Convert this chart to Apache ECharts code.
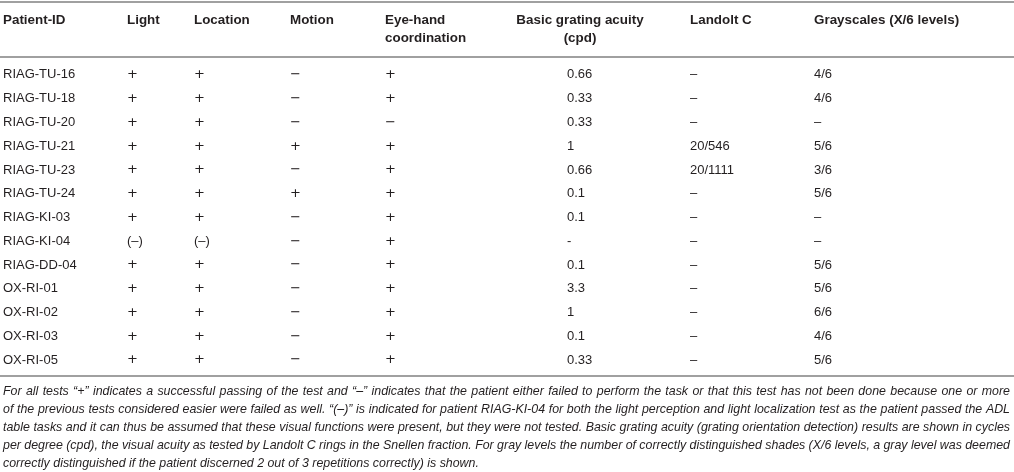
<!DOCTYPE html>
<html>
<head>
<meta charset="utf-8">
<script src="https://cdn.jsdelivr.net/npm/echarts@6/dist/echarts.min.js"></script>
<style>
  html, body { margin: 0; padding: 0; background: #fff; }
  #chart { width: 1014px; height: 472px; }
</style>
</head>
<body>
<div id="chart"></div>
<script>
// 表格数据：每列一个数组
var patientIds = ['RIAG-TU-16', 'RIAG-TU-18', 'RIAG-TU-20', 'RIAG-TU-21', 'RIAG-TU-23', 'RIAG-TU-24',
  'RIAG-KI-03', 'RIAG-KI-04', 'RIAG-DD-04', 'OX-RI-01', 'OX-RI-02', 'OX-RI-03', 'OX-RI-05']
var lightTest = ['+', '+', '+', '+', '+', '+', '+', '(\u2013)', '+', '+', '+', '+', '+']
var locationTest = ['+', '+', '+', '+', '+', '+', '+', '(\u2013)', '+', '+', '+', '+', '+']
var motionTest = ['\u2212', '\u2212', '\u2212', '+', '\u2212', '+', '\u2212', '\u2212', '\u2212', '\u2212', '\u2212', '\u2212', '\u2212']
var eyeHandTest = ['+', '+', '\u2212', '+', '+', '+', '+', '+', '+', '+', '+', '+', '+']
var gratingAcuity = ['0.66', '0.33', '0.33', '1', '0.66', '0.1', '0.1', '-', '0.1', '3.3', '1', '0.1', '0.33']
var landoltC = ['\u2013', '\u2013', '\u2013', '20/546', '20/1111', '\u2013', '\u2013', '\u2013', '\u2013', '\u2013', '\u2013', '\u2013', '\u2013']
var grayscales = ['4/6', '4/6', '\u2013', '5/6', '3/6', '5/6', '\u2013', '\u2013', '5/6', '5/6', '6/6', '4/6', '5/6']

// 表头（多行用 \n）
var headers = ['Patient-ID', 'Light', 'Location', 'Motion', 'Eye-hand\ncoordination',
  'Basic grating acuity\n(cpd)', 'Landolt C', 'Grayscales (X/6 levels)']

var footnote = [
  'For all tests \u201c+\u201d indicates a successful passing of the test and \u201c\u2013\u201d indicates that the patient either failed to perform the task or that this test has not been done because one or more',
  'of the previous tests considered easier were failed as well. \u201c(\u2013)\u201d is indicated for patient RIAG-KI-04 for both the light perception and light localization test as the patient passed the ADL',
  'table tasks and it can thus be assumed that these visual functions were present, but they were not tested. Basic grating acuity (grating orientation detection) results are shown in cycles',
  'per degree (cpd), the visual acuity as tested by Landolt C rings in the Snellen fraction. For gray levels the number of correctly distinguished shades (X/6 levels, a gray level was deemed',
  'correctly distinguished if the patient discerned 2 out of 3 repetitions correctly) is shown.'
]

// 布局：各列文字的横向起点
var COL_X = [3, 127, 194, 290, 385, 567, 690, 814]
var HEAD_X = [3, 127, 194, 290, 385, 580, 690, 814]
var HEAD_ALIGN = ['left', 'left', 'left', 'left', 'left', 'center', 'left', 'left']
var FONT = '"Liberation Sans", Arial, Helvetica, sans-serif'
var SIGN_FONT = '"DejaVu Sans", "Liberation Sans", sans-serif'
var NOTE_FONT = 'italic 12.4px ' + FONT
var TEXT_COLOR = '#231f20'
var RULE_COLOR = '#a0a0a0'

var columns = [patientIds, lightTest, locationTest, motionTest, eyeHandTest, gratingAcuity, landoltC, grayscales]

// 生成单元格数据 [列号, 行号, 文本]
var cells = []
for (let c = 0; c < columns.length; c++) {
  for (let r = 0; r < patientIds.length; r++) {
    cells.push([c, r, columns[c][r]])
  }
}

// 单独的加减号用更宽的字体
function isSign (text) {
  return text === '+' || text === '\u2212'
}

var graphics = []
// 横线
var rules = [2, 57, 376]
for (let i = 0; i < rules.length; i++) {
  graphics.push({
    type: 'line',
    shape: { x1: 0, y1: rules[i], x2: 1014, y2: rules[i] },
    style: { stroke: RULE_COLOR, lineWidth: 2 },
    silent: true
  })
}
// 表头
for (let i = 0; i < headers.length; i++) {
  graphics.push({
    type: 'text',
    x: HEAD_X[i],
    y: 11,
    style: {
      text: headers[i],
      font: 'bold 13.4px ' + FONT,
      fill: TEXT_COLOR,
      align: HEAD_ALIGN[i],
      verticalAlign: 'top',
      lineHeight: 18
    }
  })
}

// 脚注：两端对齐，逐词排布
var ctx = document.createElement('canvas').getContext('2d')
ctx.font = NOTE_FONT
var noteLeft = 3
var noteRight = 1010
for (let i = 0; i < footnote.length; i++) {
  var words = footnote[i].split(' ')
  var widths = words.map(function (w) { return ctx.measureText(w).width })
  var total = widths.reduce(function (a, b) { return a + b }, 0)
  var gap = ctx.measureText(' ').width
  if (i < footnote.length - 1 && words.length > 1) {
    gap = (noteRight - noteLeft - total) / (words.length - 1)
  }
  var x = noteLeft
  for (let j = 0; j < words.length; j++) {
    graphics.push({
      type: 'text',
      x: x,
      y: 392 + i * 18,
      style: {
        text: words[j],
        font: NOTE_FONT,
        fill: TEXT_COLOR,
        verticalAlign: 'middle'
      }
    })
    x += widths[j] + gap
  }
}

var chart = echarts.init(document.getElementById('chart'), null, { renderer: 'canvas' })
chart.setOption({
  animation: false,
  grid: { left: 0, right: 0, top: 63, height: 309 },
  xAxis: { type: 'value', min: 0, max: 1014, show: false },
  yAxis: { type: 'category', data: patientIds, inverse: true, show: false },
  graphic: graphics,
  series: [
    {
      type: 'custom',
      data: cells,
      renderItem: function (params, api) {
        var col = api.value(0)
        var row = api.value(1)
        var text = cells[params.dataIndex][2]
        var pt = api.coord([COL_X[col], row])
        return {
          type: 'text',
          x: pt[0],
          y: pt[1],
          style: {
            text: text,
            font: isSign(text) ? '13px ' + SIGN_FONT : '13px ' + FONT,
            fill: TEXT_COLOR,
            align: 'left',
            verticalAlign: 'middle'
          }
        }
      }
    }
  ]
})
</script>
</body>
</html>
